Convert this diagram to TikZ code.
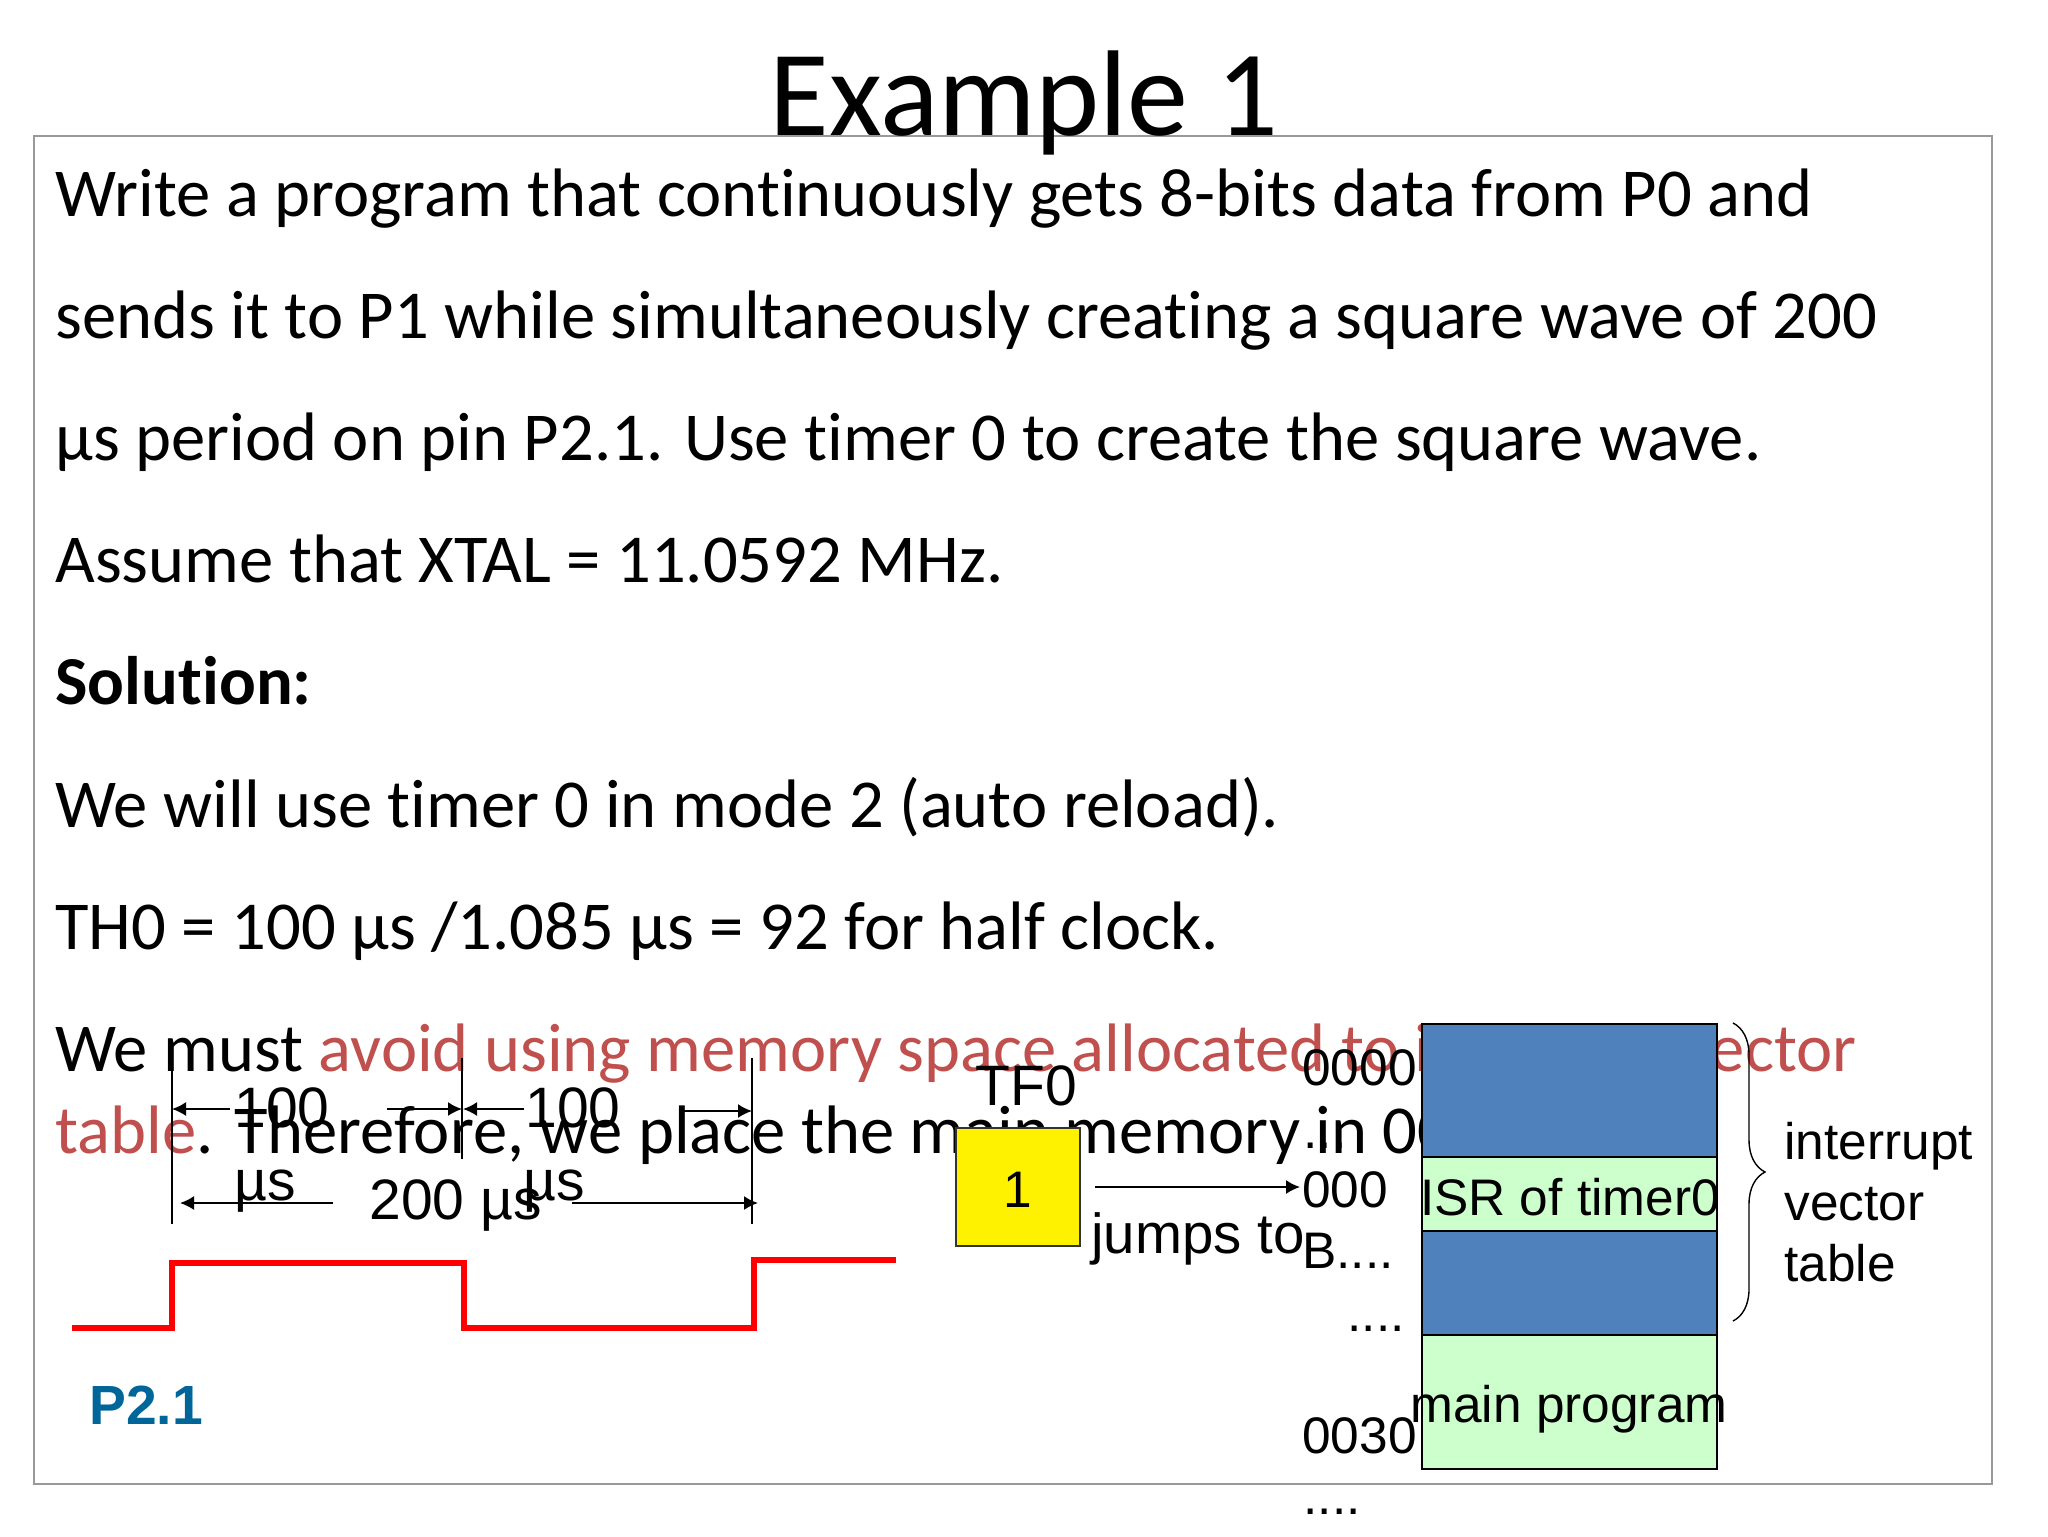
\documentclass[tikz,border=0pt]{standalone}
\usepackage{fontspec}
\setmainfont{Carlito}[Ligatures=NoCommon]
\newfontfamily\armfont{Liberation Sans}
\usetikzlibrary{shapes,arrows,arrows.meta,positioning,decorations.pathreplacing}
\definecolor{slidered}{HTML}{C0504D}
\definecolor{vecblue}{HTML}{4F81BD}
\definecolor{isrgreen}{HTML}{CCFFCC}
\definecolor{pinblue}{HTML}{006699}
\tikzset{
  bodyline/.style={inner sep=0pt,text width=970pt,align=flush left,text height=27pt,text depth=9pt,font=\fontsize{34.3}{38}\selectfont},
  dlabel/.style={inner sep=0pt,anchor=base west,font=\armfont\fontsize{25.7}{28}\selectfont},
  wlabel/.style={inner sep=0pt,anchor=base west,font=\armfont\fontsize{28.5}{30}\selectfont},
  memblock/.style={rectangle,draw=black,line width=1pt,minimum width=147.5pt,inner sep=0pt},
  dimline/.style={line width=0.7pt},
  dimarrow/.style={-{Latex[length=7pt,width=7pt]},line width=0.9pt},
}
\begin{document}
\begin{tikzpicture}[x=0.5pt,y=-0.5pt,node distance=61.1pt]
	\useasboundingbox (0,0) rectangle (2048,1536);
	\fill[white] (0,0) rectangle (2048,1536);
	\draw[black!40,line width=0.7pt] (34,136) rectangle (1992,1484);
	\node [anchor=base,inner sep=0pt,font=\fontsize{61}{64}\selectfont] (title) at (1024,135) {Example 1};
	% problem text
	\node [bodyline,anchor=base west] (lineA) at (55,216) {Write a program that continuously gets 8-bits data from P0 and};
	\node [bodyline,below of=lineA] (lineB) {sends it to P1 while simultaneously creating a square wave of 200};
	\node [bodyline,below of=lineB] (lineC) {µs period on pin P2.1. Use timer 0 to create the square wave.};
	\node [bodyline,below of=lineC] (lineD) {Assume that XTAL = 11.0592 MHz.};
	\node [bodyline,below of=lineD] (lineE) {\textbf{Solution:}};
	\node [bodyline,below of=lineE] (lineF) {We will use timer 0 in mode 2 (auto reload).};
	\node [bodyline,below of=lineF] (lineG) {TH0 = 100 µs /1.085 µs = 92 for half clock.};
	\node [bodyline,below of=lineG] (lineH) {We must \textcolor{slidered}{avoid using memory space allocated to interrupt vector}};
	\node [bodyline,below of=lineH,node distance=41pt] (lineI) {\textcolor{slidered}{table}. Therefore, we place the main memory in 00};
	% square wave
	\coordinate (waveA) at (72,1328);
	\coordinate (waveB) at (172,1328);
	\coordinate (waveC) at (172,1263);
	\coordinate (waveD) at (464,1263);
	\coordinate (waveE) at (464,1328);
	\coordinate (waveF) at (754,1328);
	\coordinate (waveG) at (754,1260);
	\coordinate (waveH) at (896,1260);
	\draw[red,line width=2.8pt] (waveA) -- (waveB) -- (waveC) -- (waveD) -- (waveE) -- (waveF) -- (waveG) -- (waveH);
	\coordinate (tickAtop) at (172,1068);
	\coordinate (tickAbot) at (172,1224);
	\coordinate (tickBtop) at (462,1058);
	\coordinate (tickBbot) at (462,1159);
	\coordinate (tickCtop) at (752,1058);
	\coordinate (tickCbot) at (752,1224);
	\draw[dimline] (tickAtop) -- (tickAbot);
	\draw[dimline] (tickBtop) -- (tickBbot);
	\draw[dimline] (tickCtop) -- (tickCbot);
	\node [wlabel] (firstHund) at (234,1127) {100};
	\node [wlabel] (firstUs) at (234,1200) {µs};
	\node [wlabel] (secondHund) at (525,1127) {100};
	\node [wlabel] (secondUs) at (523,1200) {µs};
	\node [wlabel] (period) at (369,1219) {200 µs};
	\coordinate (firstL) at (230,1109);
	\coordinate (firstLtip) at (172,1109);
	\coordinate (firstR) at (387,1109);
	\coordinate (firstRtip) at (462,1109);
	\coordinate (secondL) at (524,1109);
	\coordinate (secondLtip) at (463,1109);
	\coordinate (secondR) at (679,1111);
	\coordinate (secondRtip) at (752,1111);
	\coordinate (periodL) at (333,1203);
	\coordinate (periodLtip) at (180,1203);
	\coordinate (periodR) at (572,1203);
	\coordinate (periodRtip) at (758,1203);
	\draw[dimarrow] (firstL) -- (firstLtip);
	\draw[dimarrow] (firstR) -- (firstRtip);
	\draw[dimarrow] (secondL) -- (secondLtip);
	\draw[dimarrow] (secondR) -- (secondRtip);
	\draw[dimarrow] (periodL) -- (periodLtip);
	\draw[dimarrow] (periodR) -- (periodRtip);
	\node [inner sep=0pt,anchor=base west,text=pinblue,font=\armfont\bfseries\fontsize{27.6}{30}\selectfont] (pinname) at (89,1424) {P2.1};
	% timer flag
	\node [rectangle,draw=black!80,fill=yellow,line width=0.7pt,minimum width=62pt,minimum height=59pt,inner sep=0pt] (flagbox) at (1018,1187) {};
	\node [dlabel,anchor=base] (flagval) at (1018,1207) {1};
	\node [wlabel] (flagname) at (975,1105) {TF0};
	\coordinate (jumpstart) at (1095,1187);
	\coordinate (jumpend) at (1300,1187);
	\draw[dimarrow] (jumpstart) -- (jumpend);
	\node [dlabel,font=\armfont\fontsize{28.2}{30}\selectfont] (jumps) at (1091,1253) {jumps to};
	% memory map
	\node [memblock,fill=vecblue,minimum height=66.5pt] (blockA) at (1569.5,1090.5) {};
	\node [memblock,fill=isrgreen,minimum height=37pt] (blockB) at (1569.5,1194) {};
	\node [memblock,fill=vecblue,minimum height=52pt] (blockC) at (1569.5,1283) {};
	\node [memblock,fill=isrgreen,minimum height=67pt] (blockD) at (1569.5,1402) {};
	\node [dlabel,anchor=base] (isrname) at (1570,1215) {ISR of timer0};
	\node [dlabel,anchor=base] (mainname) at (1569,1422) {main program};
	\node [dlabel] (addrA) at (1302,1085) {0000};
	\node [dlabel] (addrB) at (1303,1148) {...};
	\node [dlabel] (addrC) at (1302,1207) {000};
	\node [dlabel] (addrD) at (1302,1268) {B....};
	\node [dlabel] (addrE) at (1347,1331) {....};
	\node [dlabel] (addrF) at (1302,1453) {0030};
	\node [dlabel] (addrG) at (1303,1514) {....};
	\coordinate (braceTop) at (1733,1023);
	\coordinate (braceBot) at (1733,1321);
	\draw[line width=0.7pt,decorate,decoration={brace,amplitude=16pt}] (braceTop) -- (braceBot);
	\node [dlabel] (vecA) at (1784,1159) {interrupt};
	\node [dlabel] (vecB) at (1784,1220) {vector};
	\node [dlabel] (vecC) at (1784,1281) {table};
\end{tikzpicture}
\end{document}
